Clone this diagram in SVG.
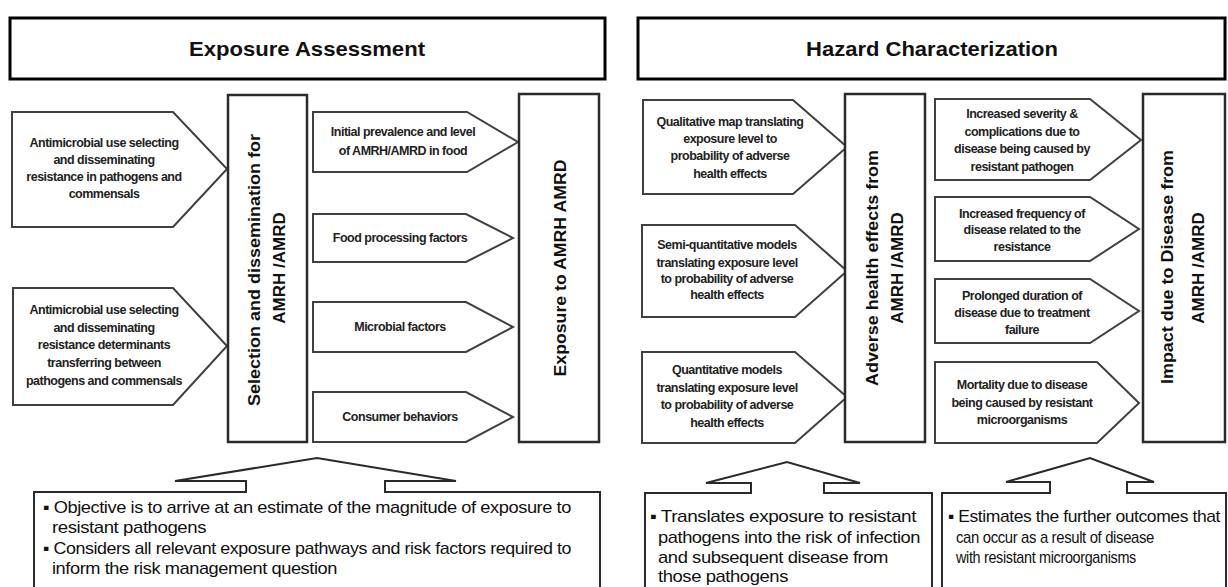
<svg xmlns="http://www.w3.org/2000/svg" width="1228" height="587" viewBox="0 0 1228 587">
<style>
.hdr{fill:#fff;stroke:#000;stroke-width:3}
.htxt{font-family:"Liberation Sans",Arial,sans-serif;font-size:21px;font-weight:bold;fill:#111;text-anchor:middle}
.chev{fill:#fff;stroke:#404040;stroke-width:2;stroke-linejoin:miter}
.vbox{fill:#fff;stroke:#2a2a2a;stroke-width:2.5}
.ctxt{font-family:"Liberation Sans",Arial,sans-serif;font-size:12.5px;font-weight:bold;fill:#222;text-anchor:middle;letter-spacing:-0.5px}
.vtxt{font-family:"Liberation Sans",Arial,sans-serif;font-size:17px;font-weight:bold;fill:#111;text-anchor:middle;dominant-baseline:central}
.call{fill:#fff;stroke:#2a2a2a;stroke-width:2}
.btxt{font-family:"Liberation Sans",Arial,sans-serif;font-size:17px;fill:#111;letter-spacing:-0.4px}
</style>

<g id="hdr-exposure">
<rect class="hdr" x="10" y="18" width="595" height="61"/>
<text class="htxt" x="307" y="56" textLength="236" lengthAdjust="spacingAndGlyphs">Exposure Assessment</text>
</g>
<g id="hdr-hazard">
<rect class="hdr" x="638" y="18" width="587" height="61"/>
<text class="htxt" x="932" y="56" textLength="252" lengthAdjust="spacingAndGlyphs">Hazard Characterization</text>
</g>

<g id="n-am1">
<polygon class="chev" points="12,112 173,112 227,169 173,227 12,227"/>
<text class="ctxt"><tspan x="104" y="147">Antimicrobial use selecting</tspan><tspan x="104" y="164">and disseminating</tspan><tspan x="104" y="181">resistance in pathogens and</tspan><tspan x="104" y="198">commensals</tspan></text>
</g>
<g id="n-am2">
<polygon class="chev" points="13,288 173,288 227,346 173,405 13,405"/>
<text class="ctxt"><tspan x="104" y="314">Antimicrobial use selecting</tspan><tspan x="104" y="332">and disseminating</tspan><tspan x="104" y="349">resistance determinants</tspan><tspan x="104" y="367">transferring between</tspan><tspan x="104" y="385">pathogens and commensals</tspan></text>
</g>
<g id="n-selection">
<rect class="vbox" x="228" y="95" width="79" height="347"/>
<text class="vtxt" transform="rotate(-90 254 270)" x="254" y="270" textLength="272" lengthAdjust="spacingAndGlyphs">Selection and dissemination for</text>
<text class="vtxt" transform="rotate(-90 279 268)" x="279" y="268">AMRH /AMRD</text>
</g>

<g id="n-initial">
<polygon class="chev" points="313,112 467,112 518,142 467,172 313,172"/>
<text class="ctxt"><tspan x="403" y="136">Initial prevalence and level</tspan><tspan x="403" y="155">of AMRH/AMRD in food</tspan></text>
</g>
<g id="n-food">
<polygon class="chev" points="313,214 466,214 513,238 466,262 313,262"/>
<text class="ctxt" x="400" y="242">Food processing factors</text>
</g>
<g id="n-microbial">
<polygon class="chev" points="313,302 466,302 513,327 466,352 313,352"/>
<text class="ctxt" x="400" y="331">Microbial factors</text>
</g>
<g id="n-consumer">
<polygon class="chev" points="313,392 466,392 513,417 466,442 313,442"/>
<text class="ctxt" x="400" y="421">Consumer behaviors</text>
</g>
<g id="n-exposure">
<rect class="vbox" x="519" y="94" width="80" height="348"/>
<text class="vtxt" transform="rotate(-90 560 268)" x="560" y="268" textLength="217" lengthAdjust="spacingAndGlyphs">Exposure to AMRH AMRD</text>
</g>

<g id="n-qual">
<polygon class="chev" points="643,100 793,100 847,147 793,194 643,194"/>
<text class="ctxt"><tspan x="730" y="126">Qualitative map translating</tspan><tspan x="730" y="143">exposure level to</tspan><tspan x="730" y="160">probability of adverse</tspan><tspan x="730" y="178">health effects</tspan></text>
</g>
<g id="n-semi">
<polygon class="chev" points="642,225 795,225 847,271 795,317 642,317"/>
<text class="ctxt"><tspan x="727" y="249">Semi-quantitative models</tspan><tspan x="727" y="267">translating exposure level</tspan><tspan x="727" y="283">to probability of adverse</tspan><tspan x="727" y="299">health effects</tspan></text>
</g>
<g id="n-quant">
<polygon class="chev" points="642,352 795,352 847,397 795,443 642,443"/>
<text class="ctxt"><tspan x="727" y="374">Quantitative models</tspan><tspan x="727" y="392">translating exposure level</tspan><tspan x="727" y="409">to probability of adverse</tspan><tspan x="727" y="427">health effects</tspan></text>
</g>
<g id="n-adverse">
<rect class="vbox" x="845" y="94" width="80" height="348"/>
<text class="vtxt" transform="rotate(-90 872 268)" x="872" y="268" textLength="236" lengthAdjust="spacingAndGlyphs">Adverse health effects  from</text>
<text class="vtxt" transform="rotate(-90 897 268)" x="897" y="268">AMRH /AMRD</text>
</g>

<g id="n-severity">
<polygon class="chev" points="935,99 1090,99 1141,140 1090,180 935,180"/>
<text class="ctxt"><tspan x="1022" y="118">Increased severity &amp;</tspan><tspan x="1022" y="136">complications due to</tspan><tspan x="1022" y="153">disease being caused by</tspan><tspan x="1022" y="171">resistant pathogen</tspan></text>
</g>
<g id="n-frequency">
<polygon class="chev" points="935,197 1090,197 1139,229 1090,261 935,261"/>
<text class="ctxt"><tspan x="1022" y="218">Increased frequency of</tspan><tspan x="1022" y="234">disease related to the</tspan><tspan x="1022" y="251">resistance</tspan></text>
</g>
<g id="n-duration">
<polygon class="chev" points="935,279 1090,279 1139,311 1090,343 935,343"/>
<text class="ctxt"><tspan x="1022" y="300">Prolonged duration of</tspan><tspan x="1022" y="317">disease due to treatment</tspan><tspan x="1022" y="334">failure</tspan></text>
</g>
<g id="n-mortality">
<polygon class="chev" points="935,362 1097,362 1139,403 1097,443 935,443"/>
<text class="ctxt"><tspan x="1022" y="389">Mortality due to disease</tspan><tspan x="1022" y="407">being caused by resistant</tspan><tspan x="1022" y="424">microorganisms</tspan></text>
</g>
<g id="n-impact">
<rect class="vbox" x="1143" y="94" width="82" height="348"/>
<text class="vtxt" transform="rotate(-90 1167 267)" x="1167" y="267" textLength="234" lengthAdjust="spacingAndGlyphs">Impact due to Disease from</text>
<text class="vtxt" transform="rotate(-90 1198 268)" x="1198" y="268">AMRH /AMRD</text>
</g>

<g id="n-callout-exposure">
<path class="call" d="M34,600 L34,492 L246,492 L246,481 L175,481 L317,458 L456,481 L385,481 L385,492 L600,492 L600,600"/>
<text class="btxt"><tspan x="43" y="513" textLength="528" lengthAdjust="spacingAndGlyphs">▪ Objective is to  arrive at an estimate of the magnitude of exposure to</tspan><tspan x="52" y="533" textLength="154" lengthAdjust="spacingAndGlyphs">resistant pathogens</tspan><tspan x="43" y="554" textLength="528" lengthAdjust="spacingAndGlyphs">▪ Considers all relevant exposure pathways and risk factors required to</tspan><tspan x="52" y="574" textLength="285" lengthAdjust="spacingAndGlyphs">inform the risk management question</tspan></text>
</g>
<g id="n-callout-adverse">
<path class="call" d="M645,600 L645,493 L751,493 L751,483 L706,483 L787,462 L860,483 L824,483 L824,493 L932,493 L932,600"/>
<text class="btxt"><tspan x="650" y="522" textLength="266" lengthAdjust="spacingAndGlyphs">▪ Translates exposure to resistant</tspan><tspan x="658" y="543" textLength="262" lengthAdjust="spacingAndGlyphs">pathogens into the risk of infection</tspan><tspan x="658" y="563" textLength="230" lengthAdjust="spacingAndGlyphs">and subsequent disease from</tspan><tspan x="658" y="582" textLength="130" lengthAdjust="spacingAndGlyphs">those pathogens</tspan></text>
</g>
<g id="n-callout-impact">
<path class="call" d="M942,600 L942,493 L1050,493 L1050,482 L1006,482 L1090,458 L1154,482 L1127,482 L1127,493 L1226,493 L1226,600"/>
<text class="btxt"><tspan x="948" y="522" textLength="272" lengthAdjust="spacingAndGlyphs">▪ Estimates the further outcomes that</tspan><tspan x="956" y="543" textLength="198" lengthAdjust="spacingAndGlyphs">can occur as a result of disease</tspan><tspan x="956" y="563" textLength="180" lengthAdjust="spacingAndGlyphs">with resistant microorganisms</tspan></text>
</g>
<g id="connectors"></g>
</svg>
